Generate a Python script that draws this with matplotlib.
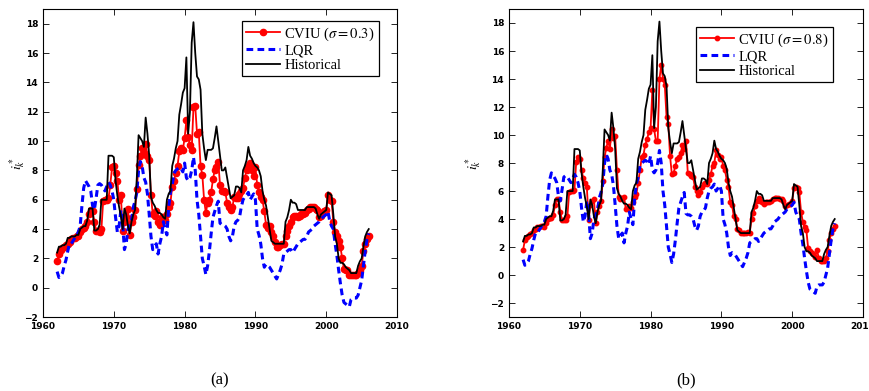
import numpy as np
import matplotlib
matplotlib.use("Agg")
import matplotlib.pyplot as plt

plt.rcParams["mathtext.fontset"] = "stix"

# quarterly, 1962Q1 .. 2006Q1
start_year = 1962
historical = [
    2.4, 2.8, 2.8, 2.9,  2.9, 3.0, 3.4, 3.4,  3.5, 3.5, 3.5, 3.6,  3.6, 4.0, 4.1, 4.2,   # 62-65
    4.2, 4.6, 5.4, 5.4,  5.4, 3.9, 3.9, 4.0,  4.3, 6.0, 6.0, 6.0,  6.0, 9.0, 9.0, 9.0,   # 66-69
    8.9, 7.3, 6.3, 5.5,  4.9, 4.0, 5.4, 5.0,  4.2, 3.7, 4.5, 5.0,  5.3, 7.5, 10.4, 10.2,  # 70-73
    10.0, 9.6, 11.6, 10.5,  9.0, 6.2, 5.8, 5.6,  5.3, 5.1, 5.1, 5.0,  4.8, 4.7, 6.0, 6.4,  # 74-77
    6.6, 8.3, 8.8, 9.5,  10.0, 11.8, 12.5, 13.3,  13.6, 15.7, 10.5, 12.0,  16.7, 18.1, 16.0, 14.4,  # 78-81
    14.2, 13.5, 10.5, 9.5,  8.7, 9.4, 9.4, 9.4,  9.5, 10.2, 11.0, 10.0,  9.0, 8.0, 8.0, 8.2,  # 82-85
    7.5, 6.8, 6.1, 6.2,  6.3, 6.9, 6.9, 6.8,  6.5, 8.0, 8.3, 8.7,  9.6, 9.0, 8.8, 8.5,  # 86-89
    8.3, 8.2, 8.0, 7.6,  6.6, 6.0, 5.6, 4.8,  4.0, 3.2, 3.1, 3.0,  3.0, 3.0, 3.0, 3.0,  # 90-93
    3.0, 4.5, 4.8, 5.3,  6.0, 5.8, 5.8, 5.7,  5.3, 5.3, 5.3, 5.3,  5.3, 5.5, 5.5, 5.5,  # 94-97
    5.5, 5.5, 5.4, 5.0,  4.7, 5.0, 5.1, 5.2,  5.3, 6.5, 6.4, 6.3,  5.0, 3.5, 3.0, 2.0,  # 98-01
    1.7, 1.7, 1.6, 1.4,  1.3, 1.2, 1.0, 1.0,  1.0, 1.0, 1.5, 1.8,  2.0, 2.8, 3.5, 3.8,  # 02-05
    4.0,
]
lqr = [
    1.1, 0.7, 0.8, 1.0,  1.5, 1.9, 2.5, 3.0,  3.0, 3.2, 3.4, 3.6,  3.8, 4.2, 5.6, 6.8,
    7.3, 7.1, 6.9, 6.6,  5.6, 5.3, 6.1, 7.0,  7.1, 7.0, 6.8, 6.6,  6.9, 7.2, 7.0, 6.6,
    6.0, 4.8, 3.8, 4.2,  5.3, 4.4, 2.6, 3.0,  4.0, 4.3, 4.6, 5.5,  5.9, 6.5, 8.0, 8.6,
    8.3, 7.5, 7.2, 6.4,  5.0, 3.5, 2.6, 2.8,  3.0, 2.3, 3.0, 3.5,  4.5, 4.0, 3.6, 5.5,
    6.5, 7.0, 7.8, 8.0,  8.1, 8.2, 8.1, 7.9,  8.5, 7.5, 7.3, 7.5,  8.0, 8.9, 8.0, 6.0,
    5.0, 3.5, 2.0, 1.5,  0.9, 1.5, 2.5, 3.7,  4.8, 5.2, 5.6, 5.9,  4.4, 4.3, 4.3, 4.2,
    4.0, 3.5, 3.2, 3.5,  4.2, 4.5, 4.6, 4.8,  5.5, 6.0, 6.2, 6.3,  6.5, 6.0, 6.2, 6.4,
    6.0, 4.0, 3.6, 3.0,  2.0, 1.4, 1.6, 1.5,  1.4, 1.2, 1.0, 0.8,  0.6, 0.9, 1.2, 1.6,
    2.3, 2.4, 2.5, 2.6,  2.6, 2.4, 2.6, 2.8,  3.0, 3.1, 3.2, 3.3,  3.3, 3.5, 3.8, 3.9,
    4.0, 4.2, 4.3, 4.4,  4.5, 4.7, 4.8, 4.9,  5.0, 5.2, 4.5, 4.2,  4.0, 3.0, 2.2, 1.2,
    0.3, -0.5, -1.0, -1.1,  -1.2, -1.3, -0.8, -0.7,  -0.7, -0.7, -0.5, 0.0,  0.5, 1.5, 2.5, 3.3,
    3.7,
]
cviu_03 = [
    1.8, 2.3, 2.6, 2.7,  2.8, 2.9, 3.0, 3.1,  3.3, 3.4, 3.4, 3.5,  3.5, 3.8, 4.0, 4.1,
    4.2, 4.5, 5.0, 5.3,  5.2, 4.5, 3.9, 3.9,  3.8, 4.0, 5.9, 6.0,  6.0, 6.1, 7.0, 8.2,
    8.3, 7.8, 7.3, 6.0,  6.3, 3.9, 4.5, 4.8,  5.4, 3.6, 4.5, 4.8,  5.3, 6.7, 8.4, 9.0,
    9.5, 9.2, 9.8, 9.0,  8.7, 6.3, 5.0, 4.9,  5.2, 4.5, 4.3, 4.8,  4.8, 4.6, 5.0, 5.5,
    5.8, 6.9, 7.3, 7.8,  8.3, 9.3, 9.5, 9.4,  10.2, 11.4, 10.3, 9.7,  9.4, 12.3, 12.4, 10.5,
    10.6, 8.3, 7.7, 6.0,  5.1, 5.8, 6.0, 6.5,  7.4, 8.0, 8.2, 8.6,  7.0, 6.6, 6.6, 6.5,
    5.8, 5.5, 5.3, 5.5,  6.2, 6.1, 6.1, 6.4,  6.6, 6.8, 7.5, 8.0,  8.3, 8.5, 8.0, 7.6,
    8.2, 7.0, 6.5, 6.2,  6.0, 5.2, 4.3, 4.1,  4.2, 3.8, 3.5, 3.1,  2.8, 2.8, 2.9, 3.0,
    3.0, 3.5, 3.9, 4.2,  4.5, 4.8, 4.9, 4.9,  4.8, 4.9, 5.0, 5.0,  5.1, 5.3, 5.4, 5.5,
    5.5, 5.5, 5.4, 5.3,  4.8, 4.9, 5.1, 5.2,  5.3, 6.3, 6.0, 5.9,  4.5, 3.8, 3.5, 3.2,
    2.8, 2.0, 1.3, 1.2,  1.2, 0.9, 0.9, 0.9,  0.9, 0.9, 1.0, 1.2,  1.5, 2.5, 3.0, 3.3,
    3.5,
]
cviu_08 = [
    1.8, 2.5, 2.7, 2.8,  2.9, 3.0, 3.2, 3.3,  3.4, 3.4, 3.5, 3.5,  3.4, 3.7, 4.0, 4.1,
    4.1, 4.3, 5.0, 5.4,  5.4, 4.5, 3.9, 3.9,  3.9, 4.2, 5.9, 6.0,  6.0, 6.1, 8.1, 8.4,
    8.3, 7.5, 6.9, 6.6,  6.3, 3.9, 5.0, 5.3,  5.4, 3.7, 4.5, 4.9,  5.3, 6.7, 8.4, 9.1,
    9.6, 9.0, 10.4, 9.8,  9.9, 7.5, 5.6, 5.4,  5.5, 5.6, 4.7, 4.8,  4.9, 4.8, 5.2, 5.6,
    5.8, 6.6, 7.5, 8.4,  8.6, 9.3, 9.7, 10.2,  10.5, 13.2, 10.4, 9.6,  9.6, 14.0, 15.0, 14.0,
    13.6, 11.3, 10.8, 8.5,  7.2, 7.3, 7.8, 8.3,  8.4, 8.7, 9.3, 9.0,  9.6, 7.3, 7.2, 7.1,
    7.0, 6.3, 6.0, 5.7,  5.9, 6.3, 6.5, 6.6,  6.5, 6.8, 7.2, 7.8,  8.0, 8.9, 8.6, 8.3,
    8.4, 7.8, 7.5, 6.8,  6.3, 5.2, 5.0, 4.2,  4.0, 3.3, 3.2, 3.0,  3.0, 3.0, 3.0, 3.1,
    3.0, 4.0, 4.4, 4.9,  5.3, 5.5, 5.3, 5.2,  5.1, 5.2, 5.2, 5.2,  5.3, 5.4, 5.5, 5.5,
    5.5, 5.4, 5.4, 5.3,  4.9, 5.0, 5.1, 5.1,  5.3, 6.2, 6.3, 6.2,  5.9, 4.5, 3.8, 3.4,
    3.2, 1.9, 1.7, 1.6,  1.5, 1.3, 1.8, 1.2,  1.0, 1.0, 1.0, 1.2,  1.7, 2.5, 3.0, 3.3,
    3.5,
]

years = start_year + 0.25 * np.arange(len(historical))

fig = plt.figure(figsize=(8.7, 3.91), dpi=100)

panels = [
    (0.0494, cviu_03, r"CVIU ($\sigma = 0.3$)", (-2, 19), 4.5, (0.949, 0.961), -0.045, "(a)"),
    (0.585, cviu_08, r"CVIU ($\sigma = 0.8$)", (-3, 19), 3.2, (0.915, 0.942), -0.073, "(b)"),
]

for left, cviu, lab, ylim, ms, anchor, ylab_x, tag in panels:
    ax = fig.add_axes([left, 0.189, 0.407, 0.788])
    ax.plot(years, cviu, "-o", color="#ff0000", lw=1.3, ms=ms, label=lab)
    ax.plot(years, lqr, "--", color="#0000ff", lw=2.2, dashes=(2.2, 1.4), label="LQR")
    ax.plot(years, historical, "-", color="black", lw=1.3, label="Historical")
    ax.set_xlim(1960, 2010)
    ax.set_ylim(*ylim)
    ax.set_xticks(range(1960, 2011, 10))
    ax.set_yticks(range(-2, 19, 2))
    ax.tick_params(direction="in", top=True, right=True, length=4, width=0.6, labelsize=6.5)
    for t in ax.get_xticklabels() + ax.get_yticklabels():
        t.set_fontweight("bold")
    for s in ax.spines.values():
        s.set_linewidth(0.8)
    ax.set_ylabel(r"$i_k^*$", fontsize=10)
    ax.yaxis.set_label_coords(ylab_x, 0.5)
    leg = ax.legend(loc="upper right", bbox_to_anchor=anchor, fancybox=False,
                    edgecolor="black", framealpha=1, numpoints=1, handlelength=2.3,
                    borderpad=0.3, labelspacing=0.1, handletextpad=0.3, borderaxespad=0,
                    prop={"family": "Liberation Serif", "size": 10.5})
    leg.get_frame().set_linewidth(0.9)
    fig.text(left + 0.407 / 2, 0.028, tag, ha="center", va="center",
             family="Liberation Serif", fontsize=12)

fig.savefig("out.png", dpi=100)
